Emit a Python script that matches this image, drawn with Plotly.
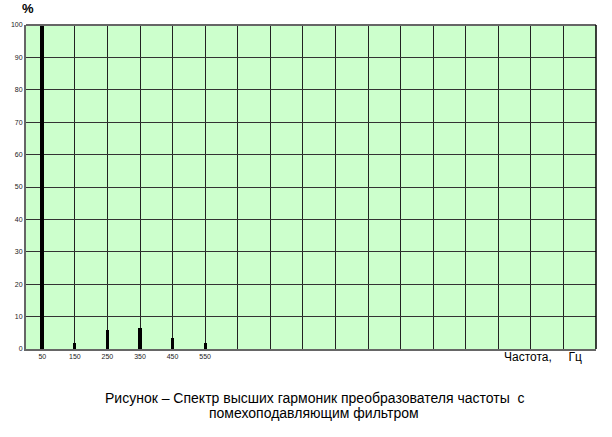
import plotly.graph_objects as go

freqs = [50, 150, 250, 350, 450, 550]
values = [100, 2, 6, 6.5, 3.5, 2]
grid_x = list(range(50, 1751, 100))
x_ticklabels = ["50", "150", "250", "350", "450", "550"]
y_ticks = list(range(0, 101, 10))

fig = go.Figure()
fig.add_trace(go.Bar(
    x=freqs, y=values,
    width=[12, 9, 10, 10, 10, 10],
    marker=dict(color="black", line=dict(width=0)),
))

fig.update_layout(
    width=612, height=437,
    margin=dict(l=26, r=16, t=25, b=88),
    paper_bgcolor="white",
    plot_bgcolor="#CCFFCC",
    showlegend=False,
    bargap=0,
    font=dict(family="Liberation Sans, Arial, sans-serif", color="black"),
    xaxis=dict(
        range=[0, 1750],
        tickmode="array",
        tickvals=grid_x,
        ticktext=[x_ticklabels[i] if i < len(x_ticklabels) else "" for i in range(len(grid_x))],
        tickfont=dict(size=7, color="#222222"),
        showgrid=True, gridcolor="#222222", gridwidth=1,
        showline=True, linecolor="#666666", linewidth=2,
        mirror=False, ticks="", ticklen=0,
        zeroline=False, fixedrange=True, automargin=False,
    ),
    yaxis=dict(
        range=[0, 100],
        tickmode="array",
        tickvals=y_ticks,
        ticktext=[str(v) for v in y_ticks],
        tickfont=dict(size=7, color="#222222"),
        showgrid=True, gridcolor="#333333", gridwidth=1,
        showline=True, linecolor="#666666", linewidth=2,
        ticks="", zeroline=False, fixedrange=True, automargin=False,
    ),
    shapes=[
        dict(type="line", xref="paper", yref="paper", x0=0, x1=1, y0=1, y1=1,
             line=dict(color="#666666", width=2)),
        dict(type="line", xref="paper", yref="paper", x0=1, x1=1, y0=0, y1=1,
             line=dict(color="black", width=1.5)),
    ],
    annotations=[
        dict(text="<b>%</b>", xref="paper", yref="paper", x=0.0, y=1.0,
             xanchor="center", yanchor="bottom", yshift=7, xshift=2,
             showarrow=False, font=dict(size=13)),
        dict(text="Частота,     Гц", xref="paper", yref="paper", x=1.0, y=0.0,
             xanchor="right", yanchor="middle", yshift=-8, xshift=-12,
             showarrow=False, font=dict(size=12)),
        dict(text="Рисунок – Спектр высших гармоник преобразователя частоты  с",
             xref="paper", yref="paper", x=0.5, y=0.0, xshift=3,
             xanchor="center", yanchor="middle", yshift=-49,
             showarrow=False, font=dict(size=14)),
        dict(text="помехоподавляющим фильтром",
             xref="paper", yref="paper", x=0.5, y=0.0, xshift=3,
             xanchor="center", yanchor="middle", yshift=-64,
             showarrow=False, font=dict(size=14)),
    ],
)

fig.write_html("out.html", config={"displayModeBar": False, "staticPlot": True},
               post_script="document.body.style.margin='0px';")
